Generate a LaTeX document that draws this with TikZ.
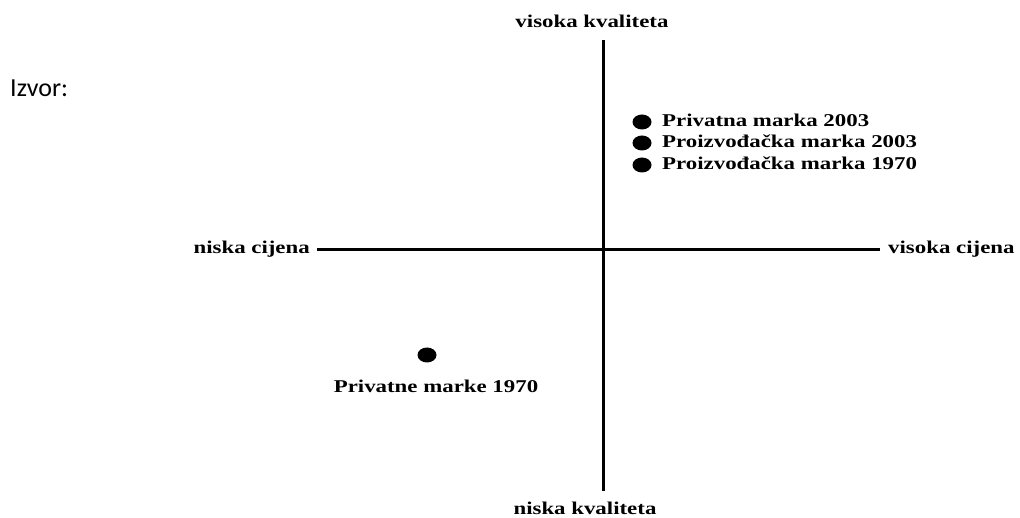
\documentclass[tikz,border=0pt]{standalone}
\usepackage{fontspec}
\usepackage{tikz}
\usetikzlibrary{positioning, shapes.geometric}
\newfontfamily\axisfont{Liberation Serif}[FakeStretch=1.27]
\newfontfamily\srcfont{Carlito}

\begin{document}
\begin{tikzpicture}[x=1pt, y=-1pt,
    lbl/.style={inner sep=0pt, font=\axisfont\bfseries\fontsize{18}{21.6}\selectfont},
    dot/.style={ellipse, fill=black, minimum width=19pt, minimum height=15pt, inner sep=0pt},
    axis/.style={line width=3pt}]
  \useasboundingbox (0,0) rectangle (1020,518);
  \node[anchor=base west, inner sep=0pt, font=\srcfont\fontsize{26}{30}\selectfont] (izvor) at (10,97) {Izvor:};

  \node[lbl, anchor=base] (hq) at (592,28) {visoka kvaliteta};
  \node[lbl, anchor=base] (lq) at (585,514) {niska kvaliteta};
  \node[lbl, anchor=base east] (lp) at (310,254) {niska cijena};
  \node[lbl, anchor=base west] (hp) at (888,254) {visoka cijena};

  \coordinate (ytop) at (603,40);
  \coordinate (ybot) at (603,491);
  \coordinate (xleft) at (317,250);
  \coordinate (xright) at (880,250);
  \draw[axis] (ytop) -- (ybot);
  \draw[axis] (xleft) -- (xright);

  \node[dot] (pm03) at (642,122) {};
  \node[dot] (pz03) at (642,143) {};
  \node[dot] (pz70) at (642,165) {};
  \node[lbl, anchor=base west] (tpm03) at (662,127) {Privatna marka 2003};
  \node[lbl, anchor=base west] (tpz03) at (662,148) {Proizvođačka marka 2003};
  \node[lbl, anchor=base west] (tpz70) at (662,170) {Proizvođačka marka 1970};

  \node[dot] (pm70) at (427,355) {};
  \node[lbl, anchor=base] (tpm70) at (436,393) {Privatne marke 1970};
\end{tikzpicture}
\end{document}
